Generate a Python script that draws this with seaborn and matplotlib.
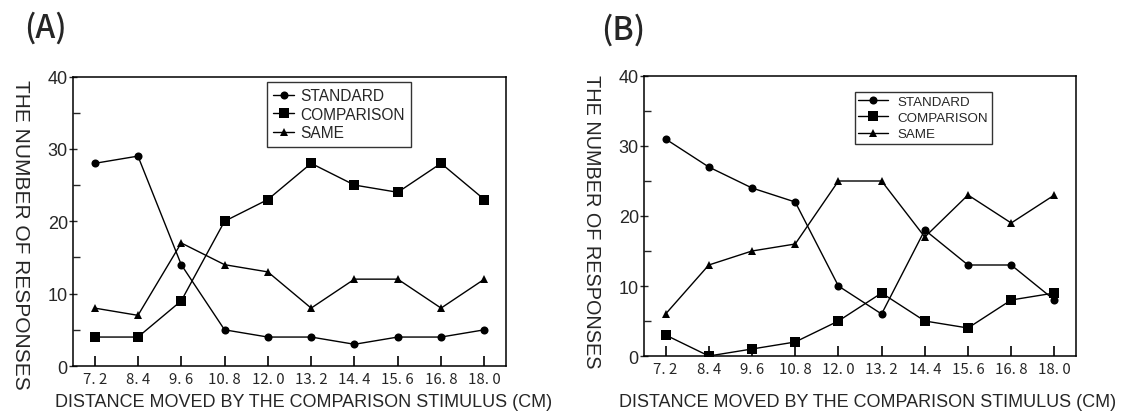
import numpy as np
import pandas as pd
import matplotlib
matplotlib.use("Agg")
import matplotlib.pyplot as plt
from matplotlib.ticker import MultipleLocator
import seaborn as sns

# Distances moved by the comparison stimulus (cm)
distances = [7.2, 8.4, 9.6, 10.8, 12.0, 13.2, 14.4, 15.6, 16.8, 18.0]
tick_labels = ["7. 2", "8. 4", "9. 6", "10. 8", "12. 0", "13. 2", "14. 4", "15. 6", "16. 8", "18. 0"]
series_names = ["STANDARD", "COMPARISON", "SAME"]

# Panel A
a_standard = [28, 29, 14, 5, 4, 4, 3, 4, 4, 5]
a_comparison = [4, 4, 9, 20, 23, 28, 25, 24, 28, 23]
a_same = [8, 7, 17, 14, 13, 8, 12, 12, 8, 12]

# Panel B
b_standard = [31, 27, 24, 22, 10, 6, 18, 13, 13, 8]
b_comparison = [3, 0, 1, 2, 5, 9, 5, 4, 8, 9]
b_same = [6, 13, 15, 16, 25, 25, 17, 23, 19, 23]

sns.set_theme(style="white")
plt.rcParams["font.family"] = ["Liberation Sans", "DejaVu Sans"]
CJK = ["Noto Sans CJK JP", "DejaVu Sans"]

W, H = 1130, 414


def long_frame(standard, comparison, same):
    rows = []
    for name, vals in zip(series_names, [standard, comparison, same]):
        for i, v in enumerate(vals):
            rows.append({"pos": i, "value": v, "series": name})
    return pd.DataFrame(rows)


markers = {"STANDARD": "o", "COMPARISON": "s", "SAME": "^"}
palette = {k: "black" for k in series_names}
msizes = {"STANDARD": 5.8, "COMPARISON": 6.5, "SAME": 6.0}


def draw_panel(ax, df, legend_xy, fsize, handle_len, text_pad, spacing, bpad):
    sns.lineplot(data=df, x="pos", y="value", hue="series", style="series",
                 markers=markers, dashes=False, palette=palette,
                 linewidth=1.0, markersize=6, markeredgewidth=0,
                 hue_order=series_names, style_order=series_names, ax=ax)
    for line, name in zip(ax.get_lines()[:3], series_names):
        line.set_markersize(msizes[name])
    ax.set_xlim(-0.5, 9.5)
    ax.set_ylim(0, 40)
    ax.set_xticks(range(len(distances)))
    ax.set_xticklabels(tick_labels, fontfamily=CJK, fontsize=10.8)
    ax.yaxis.set_major_locator(MultipleLocator(10))
    ax.yaxis.set_minor_locator(MultipleLocator(5))
    ax.tick_params(axis="x", direction="in", length=7.5, width=1.4, pad=4,
                   bottom=True, top=False)
    ax.tick_params(axis="y", which="major", direction="inout", length=5.5,
                   width=1.0, left=True, right=False, labelsize=13, pad=1)
    ax.tick_params(axis="y", which="minor", direction="in", length=5,
                   width=1.0, left=True, right=False)
    ax.set_xlabel("")
    ax.set_ylabel("")
    for sp in ax.spines.values():
        sp.set_color("black")
        sp.set_linewidth(1.1)
    handles, labels = ax.get_legend_handles_labels()
    for h, name in zip(handles, series_names):
        h.set_markersize(msizes[name])
        h.set_color("black")
        h.set_linewidth(1.0)
    leg = ax.legend(handles[:3], series_names, loc="upper left",
                    bbox_to_anchor=(legend_xy[0] / W, 1 - legend_xy[1] / H),
                    bbox_transform=ax.figure.transFigure,
                    frameon=True, fancybox=False, edgecolor="black",
                    fontsize=fsize, handlelength=handle_len, handletextpad=text_pad,
                    labelspacing=spacing, borderpad=bpad, borderaxespad=0)
    leg.get_frame().set_linewidth(1.0)


fig = plt.figure(figsize=(W / 100, H / 100), dpi=100)

ax_a = fig.add_axes([73 / W, 1 - 367 / H, 433 / W, 289.5 / H])
draw_panel(ax_a, long_frame(a_standard, a_comparison, a_same),
           (267, 83), 11.2, 1.35, 0.4, 0.23, 0.4)

ax_b = fig.add_axes([644 / W, 1 - 357 / H, 432 / W, 280 / H])
draw_panel(ax_b, long_frame(b_standard, b_comparison, b_same),
           (855, 93), 9.6, 2.2, 0.75, 0.3, 0.25)

# Panel tags
fig.text(24 / W, 1 - 28 / H, "(A)", fontfamily=CJK, fontsize=23,
         fontweight="medium", ha="left", va="center")
fig.text(601 / W, 1 - 30 / H, "(B)", fontfamily=CJK, fontsize=23,
         fontweight="medium", ha="left", va="center")

# Axis titles
ylab = "THE NUMBER OF RESPONSES"
xlab = "DISTANCE MOVED BY THE COMPARISON STIMULUS (CM)"
fig.text(20 / W, 1 - 235 / H, ylab, rotation=-90, fontsize=15,
         ha="center", va="center")
fig.text(591 / W, 1 - 222 / H, ylab, rotation=-90, fontsize=14.3,
         ha="center", va="center")
fig.text(304 / W, 1 - 403 / H, xlab, fontsize=13, ha="center", va="center")
fig.text(868 / W, 1 - 403 / H, xlab, fontsize=13, ha="center", va="center")

fig.savefig("out.png", dpi=100, facecolor="white")
